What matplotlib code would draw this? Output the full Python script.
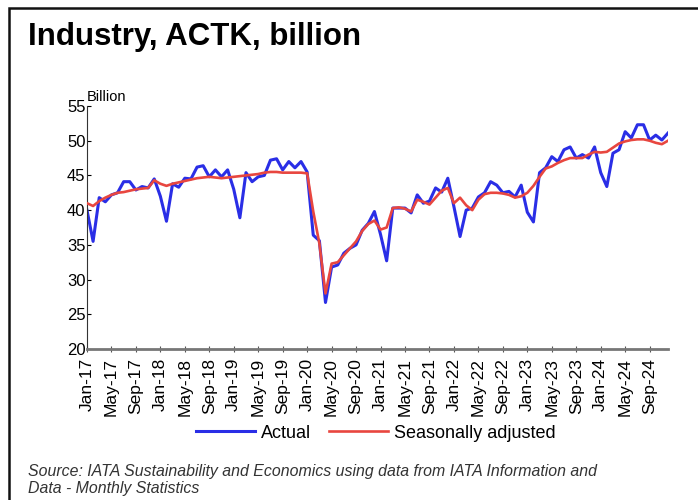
import matplotlib
matplotlib.use("Agg")
import matplotlib.pyplot as plt
from matplotlib.patches import Rectangle
import numpy as np

# monthly ACTK, billion, Jan-17 .. Dec-24
months = ["Jan", "Feb", "Mar", "Apr", "May", "Jun",
          "Jul", "Aug", "Sep", "Oct", "Nov", "Dec"]
years = list(range(17, 25))

actual = [
    40.0, 35.5, 41.8, 41.2, 42.2, 42.5, 44.1, 44.1, 42.9, 43.4, 43.2, 44.5,  # 2017
    42.0, 38.4, 43.8, 43.3, 44.6, 44.5, 46.2, 46.4, 44.8, 45.8, 44.8, 45.8,  # 2018
    43.0, 38.9, 45.4, 44.1, 44.8, 45.0, 47.2, 47.4, 45.8, 47.0, 46.1, 47.0,  # 2019
    45.5, 36.4, 35.6, 26.7, 31.8, 32.1, 33.8, 34.5, 35.0, 37.1, 38.1, 39.8,  # 2020
    36.5, 32.7, 40.3, 40.3, 40.3, 39.6, 42.2, 41.0, 41.3, 43.2, 42.6, 44.6,  # 2021
    40.5, 36.2, 40.0, 40.3, 41.9, 42.5, 44.1, 43.6, 42.5, 42.7, 41.9, 43.6,  # 2022
    39.7, 38.3, 45.4, 46.1, 47.7, 47.0, 48.7, 49.1, 47.5, 48.0, 47.5, 49.1,  # 2023
    45.4, 43.4, 48.2, 48.7, 51.3, 50.4, 52.3, 52.3, 50.1, 50.8, 50.1, 51.1,  # 2024
]

seasonally_adjusted = [
    41.0, 40.6, 41.3, 41.8, 42.2, 42.5, 42.6, 42.8, 43.0, 43.1, 43.2, 44.3,  # 2017
    43.8, 43.5, 43.8, 44.0, 44.2, 44.4, 44.6, 44.7, 44.8, 44.7, 44.6, 44.7,  # 2018
    44.8, 44.9, 45.0, 45.1, 45.2, 45.4, 45.5, 45.5, 45.4, 45.4, 45.4, 45.4,  # 2019
    45.3, 39.8, 35.2, 28.0, 32.3, 32.5, 33.5, 34.5, 35.5, 37.0, 38.0, 38.5,  # 2020
    37.2, 37.5, 40.3, 40.4, 40.2, 39.8, 41.5, 41.2, 40.8, 41.8, 42.8, 43.2,  # 2021
    41.0, 41.8, 40.7, 40.0, 41.5, 42.3, 42.5, 42.5, 42.4, 42.2, 41.8, 42.0,  # 2022
    42.5, 43.5, 44.8, 46.0, 46.3, 46.8, 47.2, 47.5, 47.5, 47.5, 48.0, 48.4,  # 2023
    48.3, 48.4, 49.0, 49.6, 49.9, 50.1, 50.2, 50.2, 50.0, 49.7, 49.5, 50.0,  # 2024
]

labels = ["{}-{}".format(m, y) for y in years for m in months]

plt.rcParams['font.family'] = ['Liberation Sans', 'DejaVu Sans']

fig = plt.figure(figsize=(6.98, 5.0), dpi=100)
ax = fig.add_axes([0.1246, 0.302, 0.8324, 0.486])

x = np.arange(len(actual))
ax.plot(x, actual, color='#2a2ee6', lw=2.2, label='Actual', zorder=2)
ax.plot(x, seasonally_adjusted, color='#e8463f', lw=1.9,
        label='Seasonally adjusted', zorder=3)

ax.set_ylim(20, 55)
ax.set_yticks(range(20, 56, 5))
ax.set_xlim(0, len(actual) - 1)
ax.set_xticks(x[::4])
ax.set_xticklabels(labels[::4], rotation=90, fontsize=12.5)
ax.tick_params(axis='y', labelsize=12, direction='in', length=3, pad=1)
ax.tick_params(axis='x', direction='inout', length=5, color='#555555', pad=4)

for side in ['top', 'right']:
    ax.spines[side].set_visible(False)
ax.spines['left'].set_color('#333333')
ax.spines['bottom'].set_color('#777777')
ax.spines['bottom'].set_linewidth(2)

ax.text(0.0, 1.01, "Billion", transform=ax.transAxes, fontsize=10.5,
        ha='left', va='bottom')

fig.text(0.04, 0.897, "Industry, ACTK, billion", fontsize=22.5,
         fontweight='bold', ha='left', va='bottom')

fig.legend(loc='center', bbox_to_anchor=(0.538, 0.134), ncol=2,
           frameon=False, fontsize=13, handlelength=3.3,
           columnspacing=1.0, handletextpad=0.3)

fig.text(0.04, 0.008,
         "Source: IATA Sustainability and Economics using data from IATA Information and\n"
         "Data - Monthly Statistics",
         fontsize=11.4, style='italic', color='#333333', ha='left', va='bottom',
         linespacing=1.2)

# outer frame (left and top edge visible)
fig.patches.append(Rectangle((0.013, -0.1), 1.1, 1.084, transform=fig.transFigure,
                             fill=False, edgecolor='#111111', lw=1.8))

fig.savefig("out.png", dpi=100)
